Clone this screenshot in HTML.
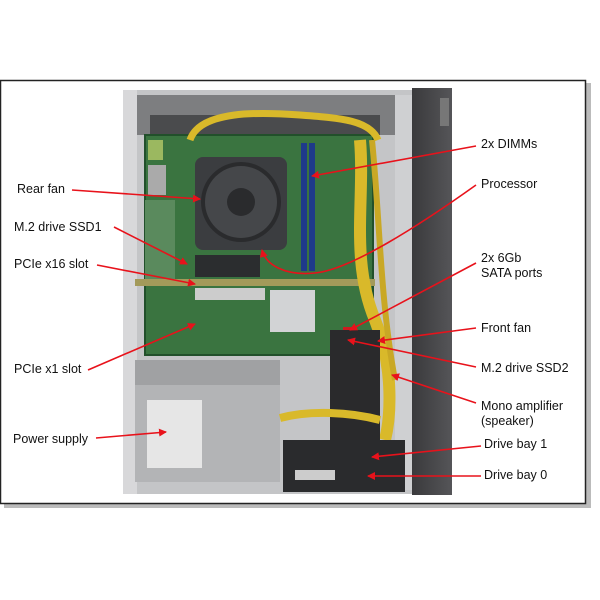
<!DOCTYPE html>
<html><head><meta charset="utf-8"><style>
html,body{margin:0;padding:0;background:#fff;}
svg{display:block}
text{font-family:"Liberation Sans",Arial,sans-serif;font-size:12.5px;fill:#111}
</style></head><body>
<svg width="600" height="600" viewBox="0 0 600 600" xmlns="http://www.w3.org/2000/svg">
<defs>
<marker id="a" markerWidth="8" markerHeight="8" refX="7" refY="4" orient="auto" markerUnits="userSpaceOnUse"><path d="M0,0 L8,4 L0,8 z" fill="#e8121b"/></marker>
<linearGradient id="bz" x1="0" x2="1"><stop offset="0" stop-color="#3a3a3c"/><stop offset="1" stop-color="#555558"/></linearGradient>
</defs>
<rect x="0" y="0" width="600" height="600" fill="#fff"/>
<rect x="4" y="83" width="587" height="425" fill="#bbb"/>
<rect x="0.5" y="80.5" width="585" height="423" fill="#fff" stroke="#222" stroke-width="1.5"/>
<!-- chassis -->
<rect x="123" y="90" width="290" height="404" fill="#c4c5c7"/>
<rect x="137" y="95" width="258" height="40" fill="#7d7e80"/>
<rect x="150" y="115" width="230" height="20" fill="#4a4b4d"/>
<rect x="123" y="90" width="14" height="404" fill="#d8d8da"/>
<rect x="395" y="95" width="17" height="395" fill="#cfd0d2"/>
<!-- bezel -->
<rect x="412" y="88" width="40" height="407" fill="url(#bz)"/>
<rect x="440" y="98" width="9" height="28" fill="#777"/>
<!-- motherboard -->
<rect x="145" y="135" width="228" height="220" fill="#3a7440"/>
<rect x="145" y="135" width="228" height="220" fill="none" stroke="#22502b" stroke-width="2"/>
<rect x="145" y="200" width="30" height="80" fill="#5a8a5d"/>
<rect x="148" y="140" width="15" height="20" fill="#9bb860"/>
<rect x="148" y="165" width="18" height="30" fill="#aaa"/>
<path d="M190,140 C200,110 260,112 300,115 C340,118 370,120 378,140" stroke="#d9b92a" stroke-width="7" fill="none"/>
<!-- fan -->
<rect x="195" y="157" width="92" height="93" rx="8" fill="#3b3d40"/>
<circle cx="241" cy="202" r="40" fill="#2a2b2d"/>
<circle cx="241" cy="202" r="36" fill="#45474a"/>
<circle cx="241" cy="202" r="14" fill="#2a2b2d"/>
<rect x="301" y="143" width="6" height="128" fill="#1e3a8a"/>
<rect x="309" y="143" width="6" height="128" fill="#1e3a8a"/>
<rect x="195" y="255" width="65" height="22" fill="#2b2d2f"/>
<rect x="135" y="279" width="240" height="7" fill="#a39a5a"/>
<rect x="195" y="288" width="70" height="12" fill="#ccc"/>
<rect x="270" y="290" width="45" height="42" fill="#d2d3d5"/>
<rect x="343" y="327" width="14" height="6" fill="#d01a20"/>
<path d="M360,140 C365,200 350,260 375,320 C395,370 390,420 385,440" stroke="#d9b92a" stroke-width="12" fill="none"/>
<path d="M372,140 C380,220 380,300 395,380" stroke="#c9a825" stroke-width="6" fill="none"/>
<rect x="330" y="330" width="50" height="110" fill="#2a2a2c"/>
<!-- PSU -->
<rect x="135" y="385" width="145" height="97" fill="#b3b4b6"/>
<rect x="135" y="360" width="145" height="25" fill="#a0a1a3"/>
<rect x="147" y="400" width="55" height="68" fill="#e6e6e6"/>
<path d="M280,418 C310,410 350,412 380,420" stroke="#d9b92a" stroke-width="8" fill="none"/>
<rect x="283" y="440" width="122" height="52" fill="#2a2b2d"/>
<rect x="295" y="470" width="40" height="10" fill="#ccc"/>
<g stroke="#e8121b" stroke-width="1.6" fill="none" marker-end="url(#a)">
<line x1="72" y1="190" x2="200" y2="199"/>
<line x1="114" y1="227" x2="187" y2="264"/>
<line x1="97" y1="265" x2="195" y2="284"/>
<line x1="88" y1="370" x2="195" y2="324"/>
<line x1="96" y1="438" x2="166" y2="432"/>
<line x1="476" y1="146" x2="312" y2="176"/>
<path d="M476,185 C420,225 350,270 315,273 C285,276 266,265 262,250"/>
<line x1="476" y1="263" x2="350" y2="330"/>
<line x1="476" y1="328" x2="378" y2="341"/>
<line x1="476" y1="367" x2="348" y2="340"/>
<line x1="476" y1="403" x2="392" y2="375"/>
<line x1="481" y1="446" x2="372" y2="457"/>
<line x1="481" y1="476" x2="368" y2="476"/>
</g>
<text x="17" y="193">Rear fan</text>
<text x="14" y="231">M.2 drive SSD1</text>
<text x="14" y="268">PCIe x16 slot</text>
<text x="14" y="373">PCIe x1 slot</text>
<text x="13" y="443">Power supply</text>
<text x="481" y="148">2x DIMMs</text>
<text x="481" y="188">Processor</text>
<text x="481" y="262">2x 6Gb</text>
<text x="481" y="277">SATA ports</text>
<text x="481" y="332">Front fan</text>
<text x="481" y="372">M.2 drive SSD2</text>
<text x="481" y="410">Mono amplifier</text>
<text x="481" y="425">(speaker)</text>
<text x="484" y="448">Drive bay 1</text>
<text x="484" y="479">Drive bay 0</text>
</svg>
</body></html>
